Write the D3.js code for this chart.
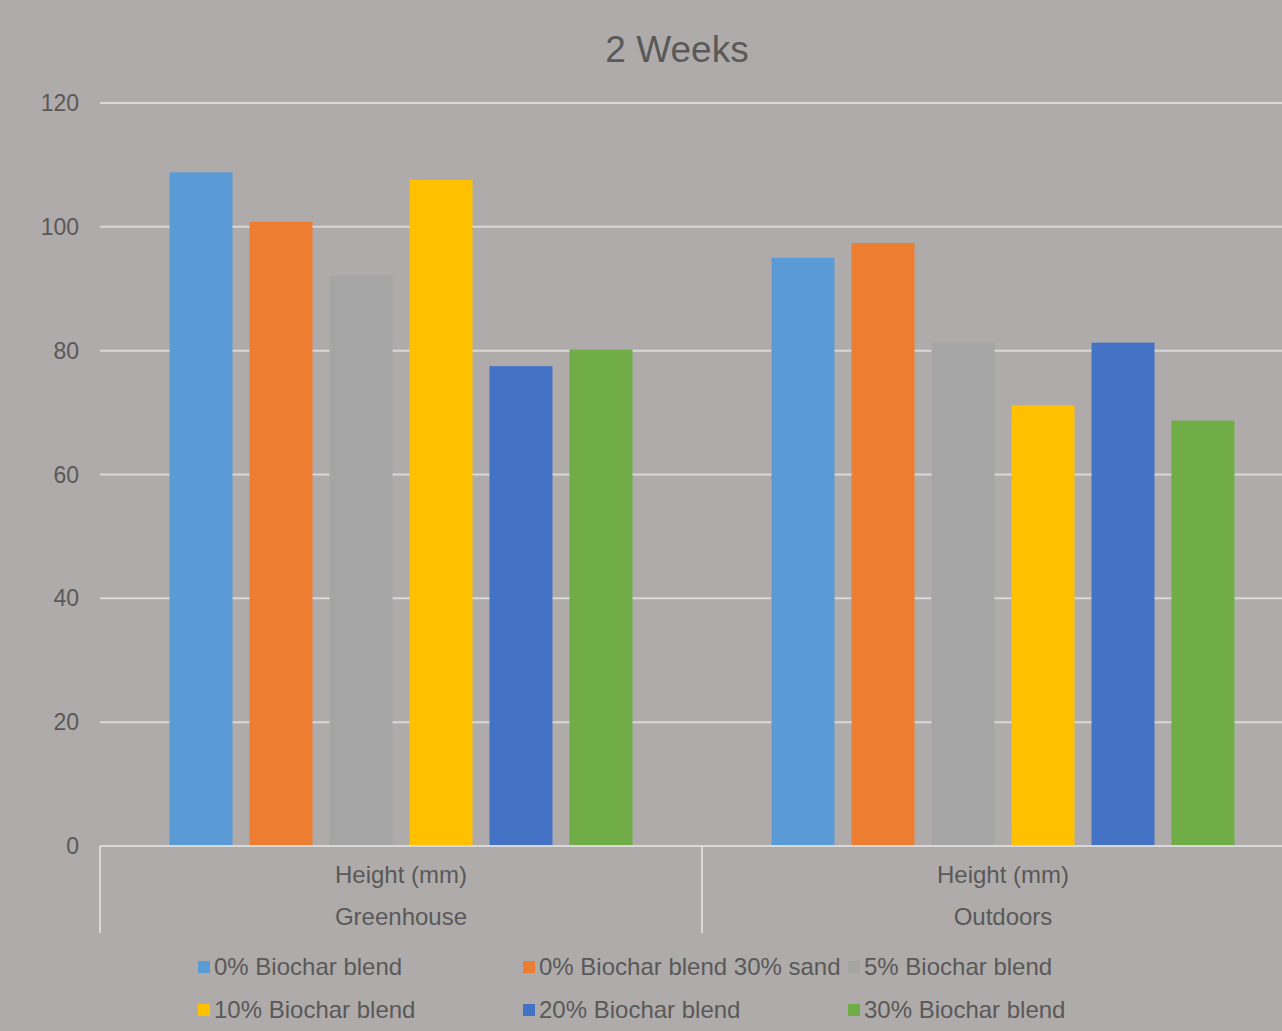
<!DOCTYPE html>
<html>
<head>
<meta charset="utf-8">
<script src="https://cdn.jsdelivr.net/npm/d3@7"></script>
<style>
  body { margin: 0; background: #afabaa; }
  svg text { font-family: "Liberation Sans", Arial, sans-serif; fill: #595959; }
</style>
</head>
<body>
<script>
var width = 1282,
    height = 1031

// chart data
var categories = ["Greenhouse", "Outdoors"]
var subLabel = "Height (mm)"
var series = ["0% Biochar blend", "0% Biochar blend 30% sand", "5% Biochar blend",
              "10% Biochar blend", "20% Biochar blend", "30% Biochar blend"]
var greenhouseValues = [108.8, 100.8, 92.1, 107.6, 77.5, 80.2]
var outdoorsValues = [95.0, 97.4, 81.3, 71.2, 81.3, 68.7]
var yTicks = [0, 20, 40, 60, 80, 100, 120]
var colors = ["#5b9bd5", "#ed7d31", "#a5a5a5", "#ffc000", "#4472c4", "#70ad47"]

var values = {Greenhouse: greenhouseValues, Outdoors: outdoorsValues}

var svg = d3.select("body").append("svg")
    .attr("width", width)
    .attr("height", height)

svg.append("rect")
    .attr("width", width)
    .attr("height", height)
    .attr("fill", "#afabaa")

var plotLeft = 100, plotRight = 1304, plotTop = 103, plotBottom = 846

var x0 = d3.scaleBand()
    .domain(categories)
    .range([plotLeft, plotRight])

var x1 = d3.scaleBand()
    .domain(series)
    .range([0, x0.bandwidth()])
    .paddingInner(0.2125)
    .paddingOuter(0.869)

var y = d3.scaleLinear()
    .domain([0, 120])
    .range([plotBottom, plotTop])

var color = d3.scaleOrdinal(colors).domain(series)

// title
svg.append("text")
    .attr("x", 677)
    .attr("y", 62)
    .attr("text-anchor", "middle")
    .style("font-size", "37px")
    .text("2 Weeks")

// gridlines
svg.append("g")
    .selectAll("line")
    .data(yTicks.filter(t => t > 0))
    .enter().append("line")
    .attr("x1", plotLeft)
    .attr("x2", width)
    .attr("y1", d => y(d))
    .attr("y2", d => y(d))
    .attr("stroke", "#d9d9d9")
    .attr("stroke-width", 2)

// y axis labels
svg.append("g")
    .selectAll("text")
    .data(yTicks)
    .enter().append("text")
    .attr("x", 79)
    .attr("y", d => y(d))
    .attr("dy", "0.35em")
    .attr("text-anchor", "end")
    .style("font-size", "23px")
    .text(d => d)

// bars
var groups = svg.append("g")
    .selectAll("g")
    .data(categories)
    .enter().append("g")
    .attr("transform", c => `translate(${x0(c)},0)`)

groups.selectAll("rect")
    .data(c => series.map((s, i) => ({series: s, value: values[c][i]})))
    .enter().append("rect")
    .attr("x", d => x1(d.series))
    .attr("width", x1.bandwidth())
    .attr("y", d => y(d.value))
    .attr("height", d => y(0) - y(d.value))
    .attr("fill", d => color(d.series))

// x axis line and category separators
svg.append("line")
    .attr("x1", plotLeft).attr("x2", width)
    .attr("y1", plotBottom).attr("y2", plotBottom)
    .attr("stroke", "#d9d9d9")
    .attr("stroke-width", 2)

var seps = [plotLeft].concat(categories.slice(1).map(c => x0(c)))
svg.append("g")
    .selectAll("line")
    .data(seps)
    .enter().append("line")
    .attr("x1", d => d).attr("x2", d => d)
    .attr("y1", plotBottom).attr("y2", 933)
    .attr("stroke", "#d9d9d9")
    .attr("stroke-width", 2)

var catLabels = svg.append("g")
    .selectAll("g")
    .data(categories)
    .enter().append("g")
    .attr("transform", c => `translate(${x0(c) + x0.bandwidth() / 2},0)`)

catLabels.append("text")
    .attr("y", 883)
    .attr("text-anchor", "middle")
    .style("font-size", "24px")
    .text(subLabel)

catLabels.append("text")
    .attr("y", 925)
    .attr("text-anchor", "middle")
    .style("font-size", "24px")
    .text(c => c)

// legend
var legend = svg.append("g")
    .selectAll("g")
    .data(series)
    .enter().append("g")
    .attr("transform", (d, i) => `translate(${198 + (i % 3) * 325},${967 + Math.floor(i / 3) * 43})`)

legend.append("rect")
    .attr("x", 0)
    .attr("y", -6)
    .attr("width", 12)
    .attr("height", 12)
    .attr("fill", d => color(d))

legend.append("text")
    .attr("x", 16)
    .attr("dy", "0.35em")
    .style("font-size", "24px")
    .text(d => d)
</script>
</body>
</html>
